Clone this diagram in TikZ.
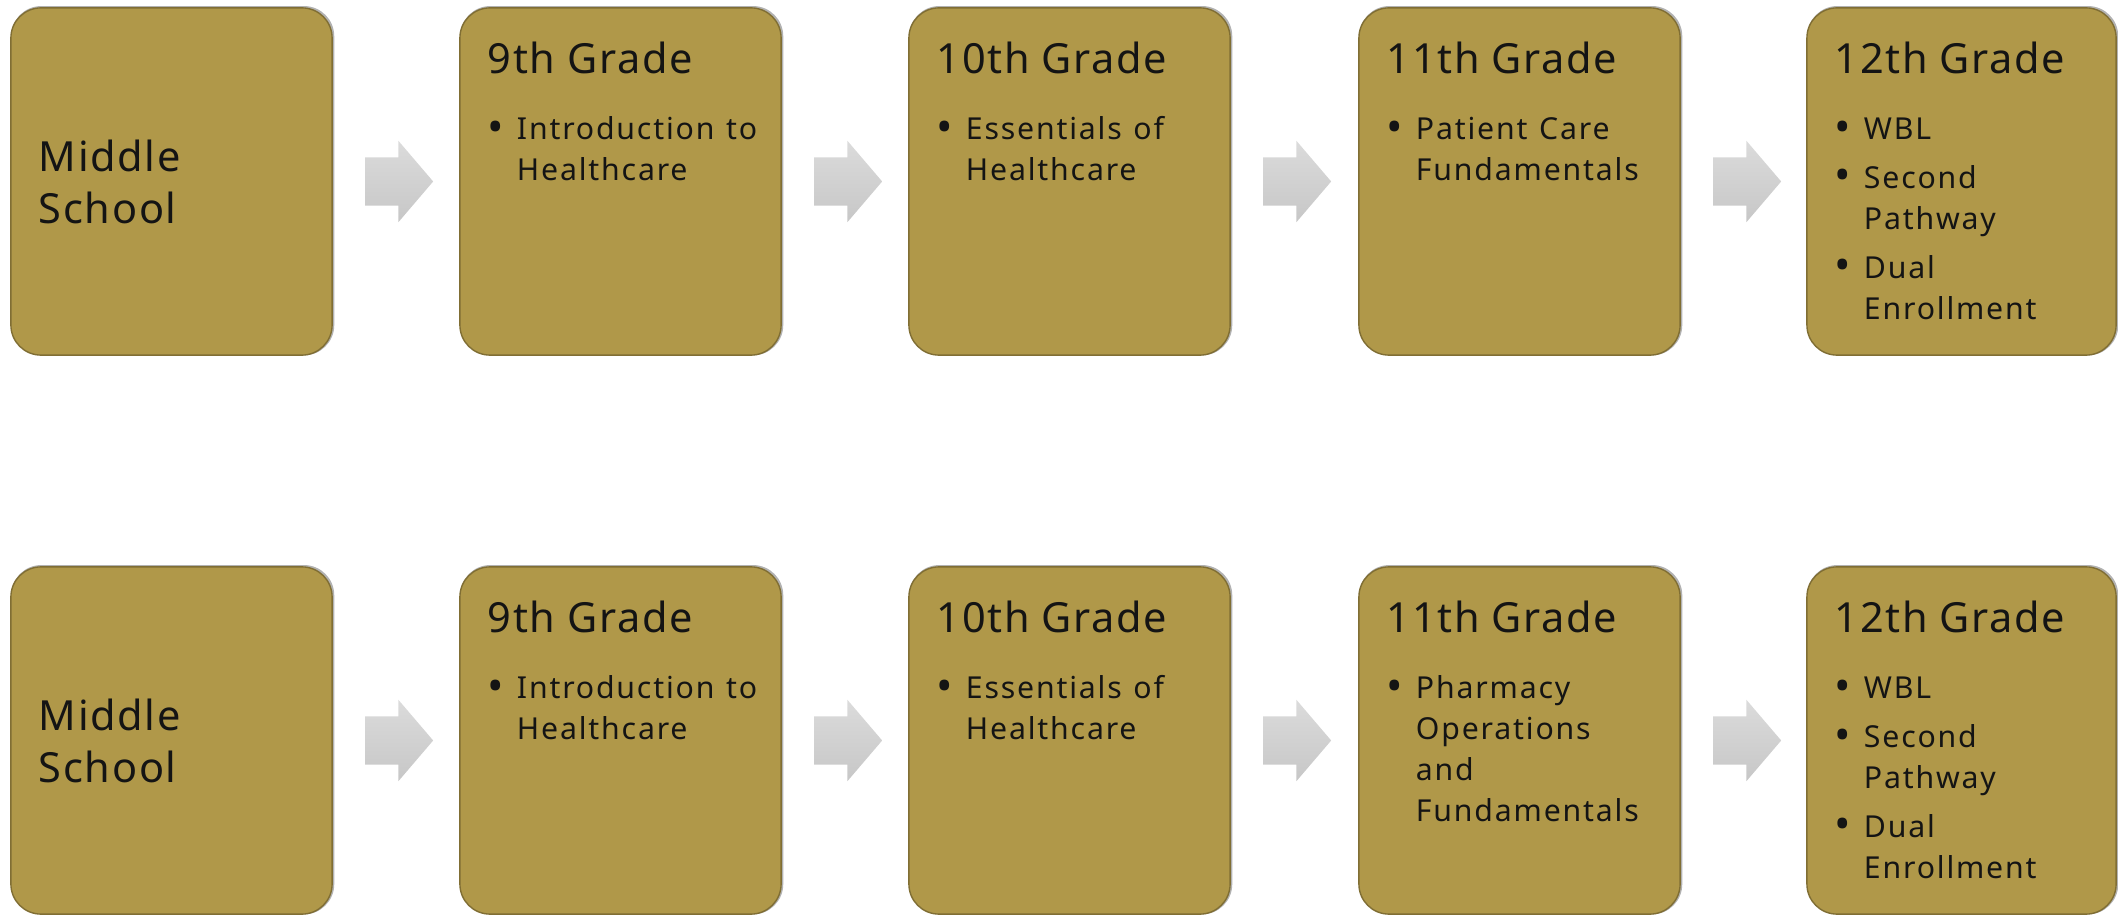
\documentclass[tikz,border=0pt]{standalone}
\usepackage{fontspec}
\setmainfont{Noto Sans}
\newfontfamily\headfont[LetterSpace=4]{Noto Sans}
\newfontfamily\itemfont[LetterSpace=6]{Noto Sans}
\usepackage{tikz}
\usetikzlibrary{shapes}
\usetikzlibrary{shadows}
\usetikzlibrary{positioning}
\definecolor{gold}{RGB}{176,152,73}
\definecolor{golddark}{RGB}{128,110,52}
\definecolor{ink}{RGB}{20,20,20}
\newcommand \headsize {\fontsize{11.8pt}{14.8pt}\selectfont}
\newcommand \itemsize {\fontsize{8.6pt}{11.67pt}\selectfont}
\newcommand \bul [1] {\par\hangindent=0.29cm\hangafter=1\noindent\makebox[0.29cm][l]{\raisebox{-0.08em}{\scalebox{1.45}{\textbullet}}}#1\par}
\tikzstyle{grade}=[rectangle,rounded corners=0.3cm,draw=golddark,fill=gold,line width=0.4pt,minimum width=3.21cm,minimum height=3.47cm,inner sep=0mm,outer sep=0mm,general shadow={fill=black!30,shadow scale=1.006,shadow xshift=0.012cm,shadow yshift=0.008cm}]
\tikzstyle{school}=[grade,text width=2.65cm,align=left,font=\headfont\headsize,text=ink]
\tikzstyle{gradetext}=[text width=2.75cm,align=left,inner sep=0mm,outer sep=0mm,text=ink,execute at begin node={\setlength{\parskip}{2.2pt}}]
\tikzstyle{flow}=[single arrow,single arrow head extend=0.165cm,single arrow tip angle=99,minimum height=0.68cm,minimum width=0.8cm,inner xsep=0mm,inner ysep=0.235cm,outer sep=0mm,draw=none,top color=black!14,bottom color=black!22]

\begin{document}
\begin{tikzpicture}[x=0.01cm,y=-0.01cm]
        \useasboundingbox (0,0) rectangle (2118,916);
        % upper pathway
        \node[school] at (171.5,181.5) (ms1) {Middle\\School};
        \node[grade] at (620.5,181.5) (g9a) {};
        \node[grade] at (1069.5,181.5) (g10a) {};
        \node[grade] at (1519.5,181.5) (g11a) {};
        \node[grade,minimum width=3.09cm] at (1961.5,181.5) (g12a) {};
        \node[gradetext,below right=0.34cm and 0.28cm of g9a.north west] (t9a) {{\headfont\headsize 9th Grade\par}\vspace{5pt}{\itemfont\itemsize\bul{Introduction to\newline Healthcare}}};
        \node[gradetext,below right=0.34cm and 0.28cm of g10a.north west] (t10a) {{\headfont\headsize 10th Grade\par}\vspace{5pt}{\itemfont\itemsize\bul{Essentials of\newline Healthcare}}};
        \node[gradetext,below right=0.34cm and 0.28cm of g11a.north west] (t11a) {{\headfont\headsize 11th Grade\par}\vspace{5pt}{\itemfont\itemsize\bul{Patient Care\newline Fundamentals}}};
        \node[gradetext,below right=0.34cm and 0.28cm of g12a.north west] (t12a) {{\headfont\headsize 12th Grade\par}\vspace{5pt}{\itemfont\itemsize\bul{WBL}\bul{Second\newline Pathway}\bul{Dual\newline Enrollment}}};
        \node[flow,right=0.33cm of ms1] (f1a) {};
        \node[flow,right=0.33cm of g9a] (f2a) {};
        \node[flow,right=0.33cm of g10a] (f3a) {};
        \node[flow,right=0.33cm of g11a] (f4a) {};
        % lower pathway
        \node[school] at (171.5,740.5) (ms2) {Middle\\School};
        \node[grade] at (620.5,740.5) (g9b) {};
        \node[grade] at (1069.5,740.5) (g10b) {};
        \node[grade] at (1519.5,740.5) (g11b) {};
        \node[grade,minimum width=3.09cm] at (1961.5,740.5) (g12b) {};
        \node[gradetext,below right=0.34cm and 0.28cm of g9b.north west] (t9b) {{\headfont\headsize 9th Grade\par}\vspace{5pt}{\itemfont\itemsize\bul{Introduction to\newline Healthcare}}};
        \node[gradetext,below right=0.34cm and 0.28cm of g10b.north west] (t10b) {{\headfont\headsize 10th Grade\par}\vspace{5pt}{\itemfont\itemsize\bul{Essentials of\newline Healthcare}}};
        \node[gradetext,below right=0.34cm and 0.28cm of g11b.north west] (t11b) {{\headfont\headsize 11th Grade\par}\vspace{5pt}{\itemfont\itemsize\bul{Pharmacy\newline Operations\newline and\newline Fundamentals}}};
        \node[gradetext,below right=0.34cm and 0.28cm of g12b.north west] (t12b) {{\headfont\headsize 12th Grade\par}\vspace{5pt}{\itemfont\itemsize\bul{WBL}\bul{Second\newline Pathway}\bul{Dual\newline Enrollment}}};
        \node[flow,right=0.33cm of ms2] (f1b) {};
        \node[flow,right=0.33cm of g9b] (f2b) {};
        \node[flow,right=0.33cm of g10b] (f3b) {};
        \node[flow,right=0.33cm of g11b] (f4b) {};
\end{tikzpicture}
\end{document}
